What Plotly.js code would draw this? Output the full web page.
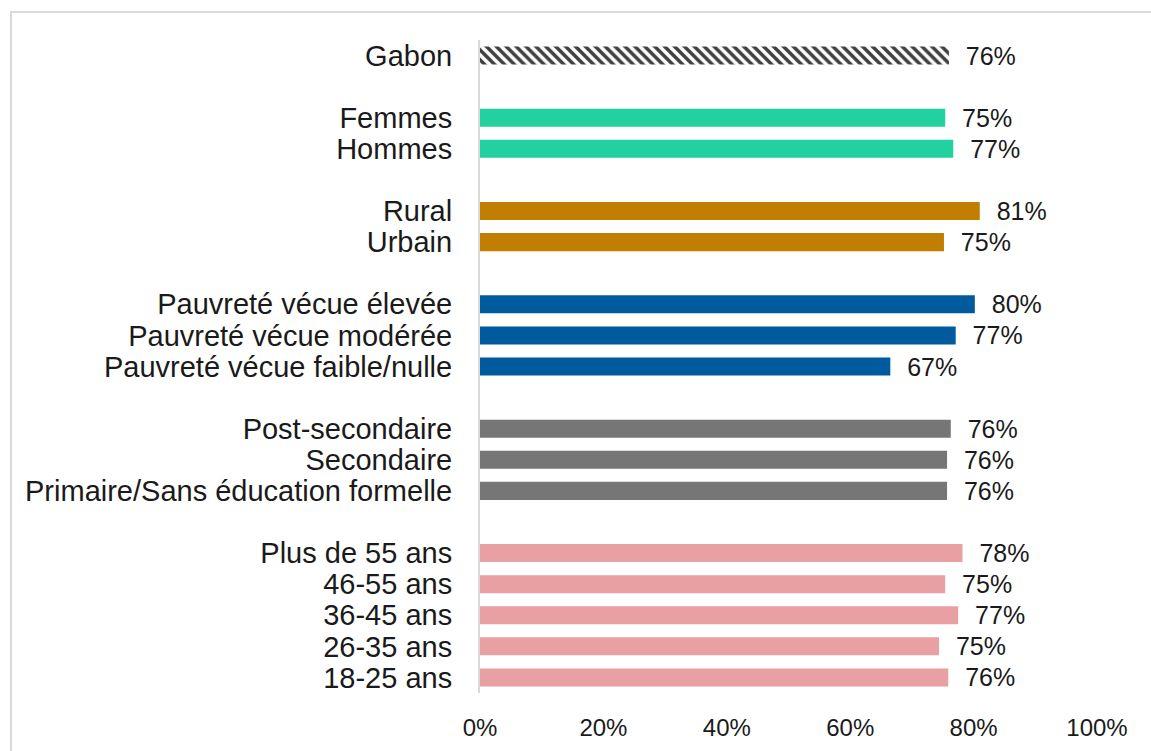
<!DOCTYPE html>
<html>
<head>
<meta charset="utf-8">
<script src="https://cdn.plot.ly/plotly-3.0.1.min.js"></script>
<style>
html, body { margin: 0; padding: 0; overflow: hidden; background: #fff; }
#chart { width: 1151px; height: 751px; }
#frame { position: absolute; left: 10px; top: 11px; width: 2000px; height: 2000px;
  border-left: 2px solid #d9d9d9; border-top: 2px solid #d9d9d9; pointer-events: none; }
</style>
</head>
<body>
<div id="chart"></div>
<div id="frame"></div>
<script>
// Categories (slot positions leave blank rows between groups)
const categories = ["Gabon",
  "Femmes", "Hommes",
  "Rural", "Urbain",
  "Pauvreté vécue élevée", "Pauvreté vécue modérée", "Pauvreté vécue faible/nulle",
  "Post-secondaire", "Secondaire", "Primaire/Sans éducation formelle",
  "Plus de 55 ans", "46-55 ans", "36-45 ans", "26-35 ans", "18-25 ans"];
const slots = [0, 2, 3, 5, 6, 8, 9, 10, 12, 13, 14, 16, 17, 18, 19, 20];
const values = [76.0, 75.4, 76.7, 81.0, 75.2, 80.2, 77.1, 66.5, 76.3, 75.7, 75.7, 78.2, 75.4, 77.5, 74.4, 75.9];
const labels = ["76%", "75%", "77%", "81%", "75%", "80%", "77%", "67%", "76%", "76%", "76%", "78%", "75%", "77%", "75%", "76%"];
const groupColors = ["#ffffff", "#22d1a0", "#22d1a0", "#c07f00", "#c07f00", "#005a9e", "#005a9e", "#005a9e",
  "#767676", "#767676", "#767676", "#e9a0a3", "#e9a0a3", "#e9a0a3", "#e9a0a3", "#e9a0a3"];
const xTicks = [0, 20, 40, 60, 80, 100];

const labelFont = { family: "Liberation Sans, Arial, sans-serif", size: 25, color: "#1a1a1a" };

const common = {
  type: "bar",
  orientation: "h",
  width: 0.58,
  textposition: "outside",
  constraintext: "none",
  cliponaxis: false,
  textfont: labelFont,
  hoverinfo: "skip"
};

// Gabon (hatched)
const gabon = Object.assign({}, common, {
  x: values.slice(0, 1),
  y: slots.slice(0, 1),
  text: labels.slice(0, 1).map(t => "\u00A0\u00A0" + t),
  marker: {
    color: "#ffffff",
    line: { width: 0 },
    pattern: { shape: "\\", fgcolor: "#3f3f3f", bgcolor: "#ffffff", size: 7, solidity: 0.5 }
  }
});

// Sub-groups
const groups = Object.assign({}, common, {
  x: values.slice(1),
  y: slots.slice(1),
  text: labels.slice(1).map(t => "\u00A0\u00A0" + t),
  marker: { color: groupColors.slice(1), line: { width: 0 } }
});

const layout = {
  width: 1151, height: 751,
  margin: { l: 480, r: 54, t: 40, b: 58 },
  paper_bgcolor: "#ffffff", plot_bgcolor: "#ffffff",
  showlegend: false,
  barmode: "overlay",
  font: { family: "Liberation Sans, Arial, sans-serif", color: "#1a1a1a" },
  xaxis: {
    range: [0, 100],
    tickvals: xTicks,
    ticktext: xTicks.map(v => v + "%"),
    showgrid: false, zeroline: false, showline: false, ticks: "",
    ticklabelstandoff: 18,
    tickfont: { size: 24, color: "#1a1a1a" },
    fixedrange: true
  },
  yaxis: {
    range: [20.5, -0.5],
    tickvals: slots,
    ticktext: categories,
    showgrid: false, zeroline: false,
    showline: true, linecolor: "#d9d9d9", linewidth: 2,
    ticks: "",
    ticklabelstandoff: 20,
    tickfont: { size: 29, color: "#1a1a1a" },
    fixedrange: true
  }
};

Plotly.newPlot("chart", [gabon, groups], layout, { displayModeBar: false, staticPlot: true });
</script>
</body>
</html>
